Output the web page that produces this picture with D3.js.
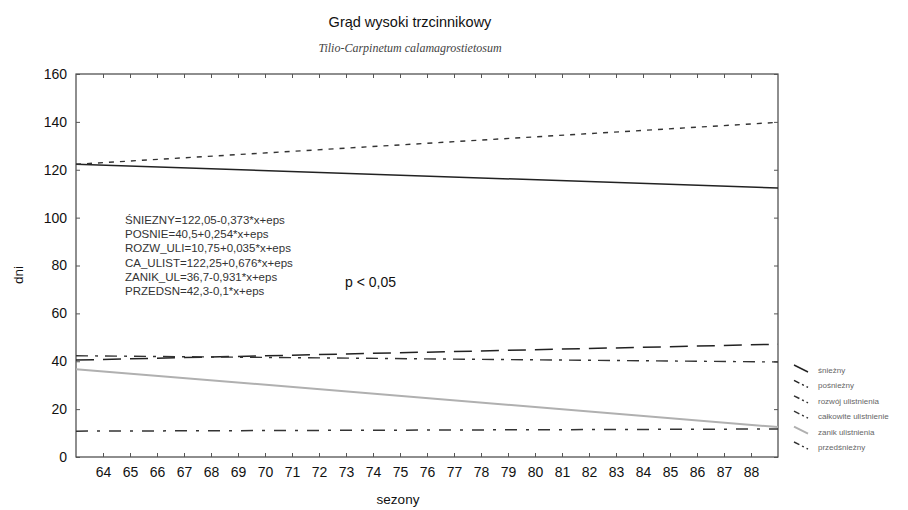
<!DOCTYPE html>
<html>
<head>
<meta charset="utf-8">
<script src="https://cdn.jsdelivr.net/npm/d3@7"></script>
<style>
  body { margin: 0; background: #fff; }
  text { font-family: "Liberation Sans", Arial, sans-serif; }
</style>
</head>
<body>
<svg id="chart" width="908" height="510"></svg>
<script>
// seasons at the ends of the fitted lines
var lineSeasons = [63, 89];
var seasonTicks = d3.range(64, 89);
var dayTicks = [0, 20, 40, 60, 80, 100, 120, 140, 160];

// series names (legend order) and values at the two ends
var seriesNames = ["śnieżny", "pośnieżny", "rozwój ulistnienia", "całkowite ulistnienie", "zanik ulistnienia", "przedśnieżny"];
var snieznyVals = [122.3, 112.4];
var posniezVals = [40.5, 47.1];
var rozwojVals = [10.8, 11.7];
var calkowiteVals = [122.3, 139.8];
var zanikVals = [36.7, 12.5];
var przedsnVals = [42.3, 39.7];

var equations = [
  "ŚNIEZNY=122,05-0,373*x+eps",
  "POSNIE=40,5+0,254*x+eps",
  "ROZW_ULI=10,75+0,035*x+eps",
  "CA_ULIST=122,25+0,676*x+eps",
  "ZANIK_UL=36,7-0,931*x+eps",
  "PRZEDSN=42,3-0,1*x+eps"
];

var margin = {top: 74, right: 130, bottom: 53, left: 76},
    width = 908 - margin.left - margin.right,
    height = 510 - margin.top - margin.bottom;

var svg = d3.select("#chart");

var g = svg.append("g")
  .attr("transform", "translate(" + margin.left + "," + margin.top + ")");

var x = d3.scaleLinear().domain([63, 89]).range([0, width]);
var y = d3.scaleLinear().domain([0, 160]).range([height, 0]);

// line styles per series
var styles = [
  {color: "#222", dash: null, w: 1.5},
  {color: "#222", dash: "18,9", w: 1.5},
  {color: "#333", dash: "12,9,3,9", w: 1.5},
  {color: "#333", dash: "5,6", w: 1.4},
  {color: "#b0b0b0", dash: null, w: 2},
  {color: "#333", dash: "12,7,3,7", w: 1.4}
];
var allVals = [snieznyVals, posniezVals, rozwojVals, calkowiteVals, zanikVals, przedsnVals];

var series = seriesNames.map(function(n, i) {
  return {name: n, style: styles[i], points: lineSeasons.map(function(s, j) { return [s, allVals[i][j]]; })};
});

// frame
g.append("rect")
  .attr("width", width).attr("height", height)
  .attr("fill", "none").attr("stroke", "#444").attr("stroke-width", 1.2);

// axes (ticks pointing inward, mirrored)
var xAxis = d3.axisBottom(x).tickValues(seasonTicks).tickSizeInner(-4).tickSizeOuter(0).tickPadding(10);
var xAxisTop = d3.axisTop(x).tickValues(seasonTicks).tickSizeInner(-4).tickSizeOuter(0).tickFormat("");
var yAxis = d3.axisLeft(y).tickValues(dayTicks).tickSizeInner(-4).tickSizeOuter(0).tickPadding(9);
var yAxisRight = d3.axisRight(y).tickValues(dayTicks).tickSizeInner(-4).tickSizeOuter(0).tickFormat("");

function styleAxis(sel) {
  sel.select(".domain").remove();
  sel.selectAll("line").attr("stroke", "#555");
  sel.selectAll("text").attr("fill", "#111").style("font-size", "14px");
}

g.append("g").attr("transform", "translate(0," + height + ")").call(xAxis).call(styleAxis);
g.append("g").call(xAxisTop).call(styleAxis);
g.append("g").call(yAxis).call(styleAxis);
g.append("g").attr("transform", "translate(" + width + ",0)").call(yAxisRight).call(styleAxis);

var line = d3.line()
  .x(function(d) { return x(d[0]); })
  .y(function(d) { return y(d[1]); });

g.selectAll(".series")
  .data(series)
  .enter()
  .append("path")
  .attr("class", "series")
  .attr("d", function(d) { return line(d.points); })
  .attr("fill", "none")
  .attr("stroke", function(d) { return d.style.color; })
  .attr("stroke-width", function(d) { return d.style.w; })
  .attr("stroke-dasharray", function(d) { return d.style.dash; });

// equations
g.append("g")
  .selectAll("text")
  .data(equations)
  .enter()
  .append("text")
  .attr("x", 49)
  .attr("y", function(d, i) { return 150 + i * 14.2; })
  .attr("fill", "#333")
  .style("font-size", "11.5px")
  .text(function(d) { return d; });

g.append("text")
  .attr("x", 269)
  .attr("y", 213)
  .attr("fill", "#111")
  .style("font-size", "14px")
  .text("p < 0,05");

// titles
svg.append("text")
  .attr("x", 410).attr("y", 27)
  .style("text-anchor", "middle")
  .style("font-size", "14.5px")
  .attr("fill", "#111")
  .text("Grąd wysoki trzcinnikowy");

svg.append("text")
  .attr("x", 410).attr("y", 52)
  .style("text-anchor", "middle")
  .style("font-family", "'Liberation Serif', 'DejaVu Serif', serif")
  .style("font-style", "italic")
  .style("font-size", "12px")
  .attr("fill", "#444")
  .text("Tilio-Carpinetum calamagrostietosum");

svg.append("text")
  .attr("x", 398).attr("y", 504)
  .style("text-anchor", "middle")
  .style("font-size", "13.5px")
  .attr("fill", "#111")
  .text("sezony");

svg.append("text")
  .attr("transform", "translate(23,275) rotate(-90)")
  .style("text-anchor", "middle")
  .style("font-size", "13.5px")
  .attr("fill", "#111")
  .text("dni");

// legend
var legend = svg.append("g").attr("transform", "translate(794,370)");
var leg = legend.selectAll(".leg")
  .data(series)
  .enter()
  .append("g")
  .attr("transform", function(d, i) { return "translate(0," + (i * 15.4) + ")"; });

leg.append("line")
  .attr("x1", 0).attr("y1", -5).attr("x2", 14).attr("y2", 2)
  .attr("stroke", function(d) { return d.style.color; })
  .attr("stroke-width", function(d) { return d.style.w; })
  .attr("stroke-dasharray", function(d) { return d.style.dash ? "6,3,2,3" : null; });

leg.append("text")
  .attr("x", 24).attr("y", 3)
  .attr("fill", "#666")
  .style("font-size", "8px")
  .text(function(d) { return d.name; });
</script>
</body>
</html>
